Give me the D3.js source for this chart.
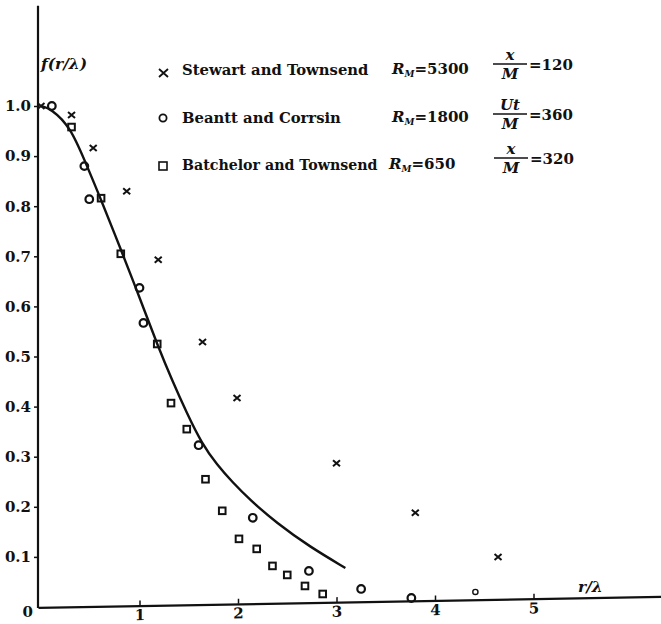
<!DOCTYPE html>
<html>
<head>
<meta charset="utf-8">
<script src="https://cdn.jsdelivr.net/npm/d3@7"></script>
<style>
  body { margin: 0; background: #fff; }
  svg { display: block; }
  text { font-family: "DejaVu Serif", "Liberation Serif", serif; font-weight: bold; fill: #111; }
  .it { font-style: italic; }
</style>
</head>
<body>
<svg width="661" height="624"></svg>
<script>
// data
var stewartX = [0, 0.31, 0.53, 0.87, 1.19, 1.64, 1.99, 3.00, 3.80, 4.64];
var stewartY = [1.0, 0.982, 0.916, 0.830, 0.693, 0.529, 0.417, 0.287, 0.188, 0.100];

var bennettX = [0.11, 0.44, 0.49, 1.00, 1.04, 1.60, 2.15, 2.72, 3.25, 3.76, 4.41];
var bennettY = [1.0, 0.880, 0.814, 0.637, 0.567, 0.323, 0.178, 0.072, 0.036, 0.018, 0.030];

var batchelorX = [0.31, 0.61, 0.81, 1.18, 1.32, 1.48, 1.67, 1.84, 2.01, 2.19, 2.35, 2.50, 2.68, 2.86];
var batchelorY = [0.958, 0.816, 0.705, 0.525, 0.407, 0.355, 0.255, 0.192, 0.136, 0.116, 0.082, 0.064, 0.042, 0.026];

var curveX = [0, 0.10, 0.30, 0.45, 0.60, 0.82, 1.00, 1.19, 1.33, 1.48, 1.63, 1.79, 1.94, 2.12, 2.39, 2.73, 3.09];
var curveY = [1.0, 0.995, 0.958, 0.888, 0.818, 0.709, 0.618, 0.519, 0.453, 0.387, 0.327, 0.283, 0.250, 0.214, 0.168, 0.120, 0.078];

var xTicks = [1, 2, 3, 4, 5];
var yTicks = [0.1, 0.2, 0.3, 0.4, 0.5, 0.6, 0.7, 0.8, 0.9, 1.0];

var legendNames = ["Stewart and Townsend", "Beantt and Corrsin", "Batchelor and Townsend"];
var legendRe = ["5300", "1800", "650"];
var legendNum = ["x", "Ut", "x"];
var legendVal = ["120", "360", "320"];

var svg = d3.select("svg");

var x = d3.scaleLinear().domain([0, 5]).range([41, 533.5]);
var y = d3.scaleLinear().domain([0, 1]).range([607, 106]);

// y axis
var yAxis = svg.append("g").attr("transform", "translate(38,0)")
  .call(d3.axisLeft(y).tickValues(yTicks).tickSize(4).tickPadding(3)
    .tickFormat(d3.format(".1f")));
yAxis.select(".domain").remove();
yAxis.selectAll("line").attr("stroke", "#111").attr("stroke-width", 1.5);
yAxis.selectAll("text").style("font-size", "15px").style("font-family", null);
svg.append("line")
  .attr("x1", 38).attr("x2", 38)
  .attr("y1", y(1.2)).attr("y2", y(0) + 1)
  .attr("stroke", "#111").attr("stroke-width", 2.2);

// x axis (scanned line is slightly tilted)
var xAxisScale = x.copy().domain([x.invert(38), x.invert(661)]).range([38, 661]);
var xAxis = svg.append("g").attr("transform", "translate(0," + (y(0) + 1) + ") skewY(-1)")
  .call(d3.axisBottom(xAxisScale).tickValues(xTicks).tickSizeInner(-5).tickSizeOuter(0).tickPadding(4)
    .tickFormat(d3.format("d")));
xAxis.select(".domain").attr("stroke", "#111").attr("stroke-width", 2.2);
xAxis.selectAll("line").attr("stroke", "#111").attr("stroke-width", 1.5);
xAxis.selectAll("text").style("font-size", "15px").style("font-family", null);

svg.append("text").attr("x", 33).attr("y", 617).attr("text-anchor", "end")
  .style("font-size", "15px").text("0");

// axis titles
svg.append("text").attr("class", "it").attr("x", 41).attr("y", 69)
  .style("font-size", "15.5px").text("f(r/λ)");
svg.append("text").attr("class", "it").attr("x", 578).attr("y", 592)
  .style("font-size", "15.5px").text("r/λ");

// fitted curve
var line = d3.line()
  .x(function(d, i) { return x(curveX[i]); })
  .y(function(d, i) { return y(curveY[i]); })
  .curve(d3.curveBasis);
svg.append("path").datum(curveX)
  .attr("d", line)
  .attr("fill", "none").attr("stroke", "#111").attr("stroke-width", 2.4);

// Stewart and Townsend: crosses
svg.append("g").selectAll("path").data(stewartX).enter().append("path")
  .attr("transform", function(d, i) { return "translate(" + x(d) + "," + y(stewartY[i]) + ")"; })
  .attr("d", "M-3.5,-3L3.5,3M3.5,-3L-3.5,3")
  .attr("stroke", "#111").attr("stroke-width", 2);

// Bennett and Corrsin: circles
svg.append("g").selectAll("circle").data(bennettX).enter().append("circle")
  .attr("cx", function(d) { return x(d); })
  .attr("cy", function(d, i) { return y(bennettY[i]); })
  .attr("r", function(d, i) { return i === bennettX.length - 1 ? 2.6 : 3.8; })
  .attr("fill", "none").attr("stroke", "#111")
  .attr("stroke-width", function(d, i) { return i === bennettX.length - 1 ? 1.4 : 2.2; });

// Batchelor and Townsend: squares
svg.append("g").selectAll("rect").data(batchelorX).enter().append("rect")
  .attr("x", function(d) { return x(d) - 3.3; })
  .attr("y", function(d, i) { return y(batchelorY[i]) - 3.3; })
  .attr("width", 6.6).attr("height", 6.6)
  .attr("fill", "none").attr("stroke", "#111").attr("stroke-width", 2);

// legend
var rowY = [68, 116, 163];
var leg = svg.append("g").selectAll("g").data(legendNames).enter().append("g")
  .attr("transform", function(d, i) { return "translate(0," + rowY[i] + ")"; });

leg.each(function(d, i) {
  var g = d3.select(this);
  if (i === 0) {
    g.append("path").attr("d", "M159,1L168,9M168,1L159,9")
      .attr("stroke", "#111").attr("stroke-width", 1.8);
  } else if (i === 1) {
    g.append("circle").attr("cx", 163).attr("cy", 2).attr("r", 3.6)
      .attr("fill", "none").attr("stroke", "#111").attr("stroke-width", 1.8);
  } else {
    g.append("rect").attr("x", 159).attr("y", -1).attr("width", 8).attr("height", 8)
      .attr("fill", "none").attr("stroke", "#111").attr("stroke-width", 1.6);
  }
  g.append("text").attr("x", 182).attr("y", 7)
    .style("font-size", i === 2 ? "14.2px" : "14.8px").text(d);

  var rx = i === 2 ? 389 : 392;
  var re = g.append("text").attr("x", rx).attr("y", 6).style("font-size", "15px");
  re.append("tspan").attr("class", "it").text("R");
  re.append("tspan").attr("class", "it").attr("dy", 3).style("font-size", "9px").text("M");
  re.append("tspan").attr("dy", -3).text("=" + legendRe[i]);

  var fx = i === 2 ? 511 : 510;
  var barY = i === 0 ? -4 : (i === 1 ? -2 : -5);
  g.append("text").attr("class", "it").attr("x", fx).attr("y", barY - 4)
    .attr("text-anchor", "middle").style("font-size", "15px").text(legendNum[i]);
  g.append("line").attr("x1", fx - 17).attr("x2", fx + 17)
    .attr("y1", barY).attr("y2", barY)
    .attr("stroke", "#111").attr("stroke-width", 1.3);
  g.append("text").attr("class", "it").attr("x", fx).attr("y", barY + 15)
    .attr("text-anchor", "middle").style("font-size", "15px").text("M");
  g.append("text").attr("x", fx + 19).attr("y", barY + 6)
    .style("font-size", "15px").text("=" + legendVal[i]);
});
</script>
</body>
</html>
